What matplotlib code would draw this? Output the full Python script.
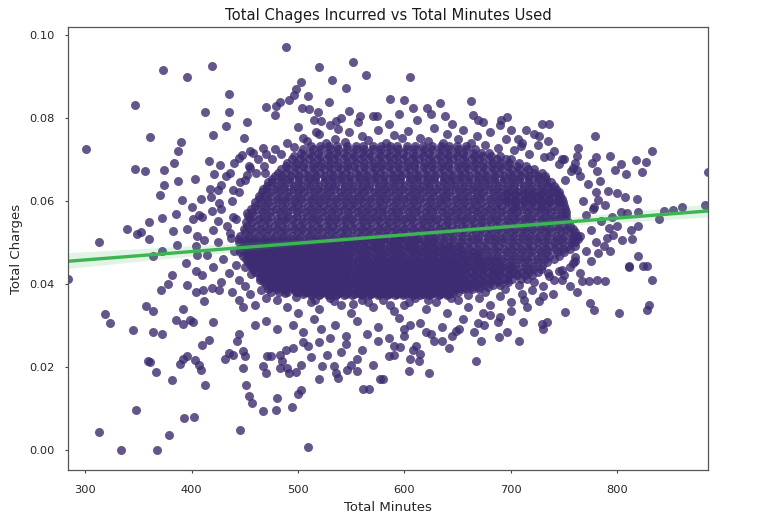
import numpy as np
import pandas as pd
import matplotlib
matplotlib.use('Agg')
import matplotlib.pyplot as plt
import seaborn as sns

# points that stand apart from the cloud, read one by one
out_minutes = [489, 373, 396, 419, 347, 361, 301, 347, 356, 374, 384, 390, 387, 435, 435, 413, 432, 420, 452, 470,
               449, 416, 427, 421, 403, 387, 374, 370, 391, 400, 385, 372, 360, 339, 349, 353, 360, 313, 383, 401,
               407, 405, 396, 409, 419, 386, 372, 364, 404, 417, 428, 426, 425, 439, 436, 446, 439, 436, 452, 445,
               454, 452, 458, 467, 469, 479, 483, 478, 492, 498, 503, 509, 496, 504, 510, 520, 532, 545, 552, 564,
               529, 548, 519, 517, 522, 536, 538, 558, 574,
               605, 586, 600, 608, 621, 633, 662, 638, 664, 669, 674, 691, 696, 714, 729, 736, 722, 726, 707, 709,
               779, 763, 737, 748, 762, 780, 793, 832, 817, 827, 823, 808, 803, 798, 776, 781, 784, 762, 751, 885,
               791, 800, 807, 818, 782, 777, 803, 809, 819, 844, 852, 861, 882, 839, 819, 813, 814, 804, 796, 792,
               787, 782, 793, 819, 811, 828,
               284, 319, 323, 345, 357, 364, 371, 378, 382, 364, 372, 359, 361, 367, 382, 348, 313, 334, 368, 379,
               393, 402, 385, 392, 392, 399, 401, 396, 404, 404, 411, 412, 419, 426, 420, 410, 416, 389, 392, 396,
               403, 407, 409, 413, 431, 435, 439, 443, 445, 448, 450, 448, 451, 454, 457, 446, 467, 479, 480, 494,
               500, 503, 509, 467, 470, 471, 475, 483, 485, 490, 483, 492, 498, 503, 495, 489, 509, 512, 520, 523,
               527, 534, 536, 538, 546, 555, 561, 567, 577,
               580, 604, 605, 614, 623, 596, 608, 611, 635, 667, 672, 689, 696, 708, 711, 730, 729, 734, 751, 774,
               778, 801, 828, 830, 832, 824, 811, 788, 781, 773, 767, 762, 748, 739, 730, 726, 712, 688, 680, 674,
               669, 651, 648]
out_charges = [0.0970, 0.0916, 0.0899, 0.0924, 0.0831, 0.0753, 0.0725, 0.0676, 0.0671, 0.0675, 0.0692, 0.0741,
               0.0719, 0.0857, 0.0814, 0.0814, 0.0781, 0.0759, 0.0789, 0.0826, 0.0751, 0.0696, 0.0685, 0.0665,
               0.0653, 0.0647, 0.0638, 0.0613, 0.0602, 0.0585, 0.0569, 0.0558, 0.0549, 0.0533, 0.0519, 0.0524,
               0.0508, 0.0500, 0.0528, 0.0557, 0.0566, 0.0514, 0.0533, 0.0604, 0.0576, 0.0494, 0.0480, 0.0467,
               0.0490, 0.0628, 0.0639, 0.0594, 0.0550, 0.0627, 0.0667, 0.0644, 0.0562, 0.0522, 0.0570, 0.0703,
               0.0684, 0.0663, 0.0715, 0.0727, 0.0667, 0.0829, 0.0837, 0.0807, 0.0843, 0.0869, 0.0886, 0.0852,
               0.0855, 0.0823, 0.0822, 0.0921, 0.0892, 0.0871, 0.0934, 0.0904, 0.0839, 0.0817, 0.0814, 0.0766,
               0.0791, 0.0791, 0.0773, 0.0804, 0.0805,
               0.0897, 0.0846, 0.0842, 0.0823, 0.0823, 0.0836, 0.0841, 0.0804, 0.0807, 0.0795, 0.0789, 0.0795,
               0.0802, 0.0771, 0.0785, 0.0785, 0.0760, 0.0755, 0.0749, 0.0733, 0.0757, 0.0728, 0.0707, 0.0700,
               0.0707, 0.0705, 0.0707, 0.0720, 0.0699, 0.0693, 0.0669, 0.0665, 0.0688, 0.0675, 0.0691, 0.0671,
               0.0647, 0.0675, 0.0651, 0.0669, 0.0624, 0.0619, 0.0608, 0.0604, 0.0602, 0.0580, 0.0572, 0.0570,
               0.0573, 0.0576, 0.0578, 0.0586, 0.0590, 0.0555, 0.0538, 0.0530, 0.0509, 0.0506, 0.0518, 0.0534,
               0.0490, 0.0474, 0.0480, 0.0466, 0.0442, 0.0444,
               0.0412, 0.0328, 0.0305, 0.0288, 0.0347, 0.0335, 0.0386, 0.0400, 0.0420, 0.0285, 0.0278, 0.0215,
               0.0212, 0.0187, 0.0168, 0.0096, 0.0043, 0.0000, 0.0000, 0.0035, 0.0077, 0.0080, 0.0312, 0.0304,
               0.0339, 0.0312, 0.0307, 0.0396, 0.0380, 0.0430, 0.0386, 0.0359, 0.0390, 0.0386, 0.0308, 0.0253,
               0.0265, 0.0207, 0.0219, 0.0226, 0.0217, 0.0204, 0.0192, 0.0155, 0.0219, 0.0233, 0.0229, 0.0263,
               0.0280, 0.0237, 0.0225, 0.0197, 0.0155, 0.0129, 0.0114, 0.0047, 0.0094, 0.0096, 0.0125, 0.0104,
               0.0135, 0.0144, 0.0008, 0.0201, 0.0185, 0.0227, 0.0225, 0.0229, 0.0213, 0.0197, 0.0197, 0.0186,
               0.0188, 0.0205, 0.0245, 0.0241, 0.0251, 0.0224, 0.0171, 0.0203, 0.0229, 0.0201, 0.0186, 0.0174,
               0.0193, 0.0190, 0.0146, 0.0146, 0.0171,
               0.0171, 0.0190, 0.0219, 0.0213, 0.0186, 0.0247, 0.0241, 0.0249, 0.0261, 0.0214, 0.0263, 0.0271,
               0.0285, 0.0263, 0.0308, 0.0292, 0.0303, 0.0308, 0.0332, 0.0353, 0.0337, 0.0329, 0.0337, 0.0349,
               0.0408, 0.0443, 0.0441, 0.0406, 0.0408, 0.0406, 0.0406, 0.0381, 0.0408, 0.0376, 0.0371, 0.0358,
               0.0360, 0.0309, 0.0325, 0.0329, 0.0305, 0.0291, 0.0287]

# looser points around the edge of the dense cloud
edge_minutes = [505, 520, 535, 548, 560, 575, 590, 603, 615, 628, 640, 655, 668, 680, 695, 710, 725, 490, 478, 530,
                556, 585, 612, 645, 700, 500, 470, 740, 750, 760, 570, 595, 540, 515, 625, 690, 735,
                440, 432, 445, 438, 428, 442, 433, 420, 437, 425, 440, 415, 430, 442, 420, 435, 410, 445, 428, 450,
                438, 455, 445, 460, 448, 470, 465, 475, 412, 405, 395, 418, 410, 450, 455, 462, 447, 425, 455,
                480, 490, 500, 512, 520, 530, 540, 550, 560, 570, 580, 590, 600, 610, 620, 630, 640, 650, 660, 670,
                680, 690, 700, 710, 720, 730, 740, 515, 535, 555, 575, 595, 615, 635, 655, 675, 495, 505, 545, 565,
                585, 625, 645, 665, 470, 480, 460, 520, 600, 700, 715, 690,
                530, 545, 560, 575, 590, 555, 540, 522, 505, 585, 570, 550, 600, 615, 628, 642, 620, 605, 590,
                765, 772, 780, 768, 778, 770, 785, 775, 765, 780, 770, 760, 775, 755, 765, 750, 790, 795, 800, 788,
                758, 760, 745, 755, 735,
                508, 526, 544, 566, 583, 598, 622, 636, 650, 662, 676, 688, 703, 717, 731, 745, 756, 496, 484, 476,
                468, 461,
                498, 516, 534, 552, 566, 586, 604, 622, 644, 660, 676, 694, 708, 722, 736, 748, 758, 488, 474, 464,
                456, 450]
edge_charges = [0.0752, 0.0760, 0.0748, 0.0765, 0.0755, 0.0770, 0.0758, 0.0768, 0.0752, 0.0775, 0.0760, 0.0770,
                0.0755, 0.0765, 0.0748, 0.0740, 0.0735, 0.0740, 0.0725, 0.0782, 0.0790, 0.0785, 0.0795, 0.0785,
                0.0770, 0.0778, 0.0712, 0.0720, 0.0700, 0.0690, 0.0805, 0.0810, 0.0800, 0.0795, 0.0808, 0.0782,
                0.0745,
                0.0690, 0.0660, 0.0620, 0.0600, 0.0580, 0.0555, 0.0540, 0.0530, 0.0510, 0.0500, 0.0480, 0.0470,
                0.0460, 0.0445, 0.0440, 0.0425, 0.0420, 0.0410, 0.0405, 0.0395, 0.0380, 0.0375, 0.0360, 0.0350,
                0.0345, 0.0365, 0.0385, 0.0380, 0.0505, 0.0470, 0.0450, 0.0610, 0.0560, 0.0650, 0.0680, 0.0700,
                0.0710, 0.0625, 0.0720,
                0.0360, 0.0345, 0.0330, 0.0355, 0.0340, 0.0365, 0.0350, 0.0330, 0.0360, 0.0345, 0.0362, 0.0335,
                0.0350, 0.0365, 0.0340, 0.0355, 0.0330, 0.0360, 0.0345, 0.0365, 0.0350, 0.0370, 0.0355, 0.0375,
                0.0385, 0.0395, 0.0410, 0.0315, 0.0300, 0.0310, 0.0295, 0.0318, 0.0305, 0.0295, 0.0315, 0.0300,
                0.0300, 0.0285, 0.0275, 0.0280, 0.0270, 0.0280, 0.0275, 0.0285, 0.0310, 0.0290, 0.0300, 0.0260,
                0.0290, 0.0335, 0.0345, 0.0320,
                0.0270, 0.0255, 0.0240, 0.0262, 0.0250, 0.0220, 0.0235, 0.0290, 0.0260, 0.0225, 0.0205, 0.0205,
                0.0275, 0.0230, 0.0262, 0.0245, 0.0285, 0.0300, 0.0228,
                0.0660, 0.0640, 0.0620, 0.0600, 0.0585, 0.0565, 0.0550, 0.0530, 0.0515, 0.0500, 0.0480, 0.0465,
                0.0455, 0.0440, 0.0425, 0.0420, 0.0510, 0.0560, 0.0540, 0.0590, 0.0680, 0.0455, 0.0430, 0.0395,
                0.0425,
                0.0745, 0.0738, 0.0742, 0.0747, 0.0740, 0.0750, 0.0744, 0.0738, 0.0748, 0.0740, 0.0735, 0.0728,
                0.0722, 0.0712, 0.0705, 0.0688, 0.0672, 0.0730, 0.0712, 0.0700, 0.0684, 0.0668,
                0.0368, 0.0362, 0.0358, 0.0352, 0.0356, 0.0350, 0.0356, 0.0362, 0.0366, 0.0372, 0.0380, 0.0388,
                0.0396, 0.0405, 0.0418, 0.0432, 0.0450, 0.0378, 0.0392, 0.0408, 0.0424, 0.0440]

# the dense middle, read row by row (one charge level per row)
core_charges = [0.0380, 0.0396, 0.0412, 0.0428, 0.0444, 0.0460, 0.0476, 0.0492, 0.0508, 0.0524, 0.0540, 0.0556,
                0.0572, 0.0588, 0.0604, 0.0620, 0.0636, 0.0652, 0.0668, 0.0684, 0.0700, 0.0716, 0.0732]
core_minutes = [
    [500, 508, 515, 524, 531, 540, 547, 556, 563, 571, 580, 587, 596, 603, 612, 619, 628, 636, 643, 650],
    [484, 492, 499, 508, 516, 523, 532, 539, 548, 556, 563, 572, 579, 588, 595, 604, 611, 620, 628, 635, 644, 651,
     660, 667, 676, 683, 690],
    [470, 478, 486, 493, 502, 510, 517, 526, 533, 542, 549, 558, 566, 573, 582, 589, 598, 605, 614, 622, 629, 638,
     645, 654, 661, 670, 678, 685, 694, 701, 709, 715],
    [462, 469, 478, 486, 494, 501, 510, 518, 525, 534, 542, 550, 557, 566, 574, 581, 590, 598, 606, 613, 622, 630,
     637, 646, 654, 662, 669, 678, 686, 693, 702, 710, 717, 725],
    [456, 465, 473, 480, 489, 497, 504, 513, 521, 529, 536, 545, 553, 560, 569, 577, 585, 592, 601, 609, 616, 625,
     633, 641, 648, 657, 665, 672, 681, 689, 697, 704, 713, 721, 729],
    [451, 459, 467, 476, 484, 491, 500, 508, 515, 524, 532, 540, 547, 556, 564, 571, 580, 588, 596, 603, 612, 620,
     627, 636, 644, 652, 659, 668, 676, 683, 692, 700, 708, 715, 724, 732, 740],
    [446, 454, 462, 471, 479, 486, 495, 503, 510, 519, 527, 535, 542, 551, 559, 566, 575, 583, 591, 598, 607, 615,
     622, 631, 639, 647, 654, 663, 671, 678, 687, 695, 703, 710, 719, 727, 734, 743, 750],
    [449, 457, 465, 473, 482, 490, 497, 506, 514, 521, 530, 538, 546, 553, 562, 570, 577, 586, 594, 602, 609, 618,
     626, 633, 642, 650, 658, 665, 674, 682, 689, 698, 706, 714, 721, 730, 738, 745, 754, 760],
    [445, 453, 461, 469, 477, 486, 494, 501, 510, 518, 525, 534, 542, 550, 557, 566, 574, 581, 590, 598, 606, 613,
     622, 630, 637, 646, 654, 662, 669, 678, 686, 693, 702, 710, 718, 725, 734, 742, 749, 757, 763],
    [450, 458, 466, 475, 483, 490, 499, 507, 514, 523, 531, 539, 546, 555, 563, 570, 579, 587, 595, 602, 611, 619,
     626, 635, 643, 651, 658, 667, 675, 682, 691, 699, 707, 714, 723, 731, 738, 747, 755, 760],
    [452, 461, 469, 477, 485, 494, 502, 509, 518, 526, 533, 542, 550, 558, 565, 574, 582, 589, 598, 606, 614, 621,
     630, 638, 645, 654, 662, 670, 677, 686, 694, 701, 710, 718, 726, 733, 742, 750, 755],
    [455, 463, 471, 480, 488, 495, 504, 512, 519, 528, 536, 544, 551, 560, 568, 575, 584, 592, 600, 607, 616, 624,
     631, 640, 648, 656, 663, 672, 680, 687, 696, 704, 712, 719, 728, 736, 743, 751],
    [457, 466, 474, 482, 490, 499, 507, 514, 523, 531, 538, 547, 555, 563, 570, 579, 587, 594, 603, 611, 619, 626,
     635, 643, 650, 659, 667, 675, 682, 691, 699, 706, 715, 723, 731, 738, 747, 752],
    [460, 468, 476, 485, 493, 500, 509, 517, 524, 533, 541, 549, 556, 565, 573, 580, 589, 597, 605, 612, 621, 629,
     636, 645, 653, 661, 668, 677, 685, 692, 701, 709, 717, 724, 733, 741, 750],
    [463, 471, 480, 488, 496, 503, 512, 520, 527, 536, 544, 552, 559, 568, 576, 583, 592, 600, 608, 615, 624, 632,
     639, 648, 656, 664, 671, 680, 688, 695, 704, 712, 720, 727, 736, 744, 748],
    [466, 474, 482, 491, 499, 506, 515, 523, 530, 539, 547, 555, 562, 571, 579, 586, 595, 603, 611, 618, 627, 635,
     642, 651, 659, 667, 674, 683, 691, 698, 707, 715, 723, 730, 739, 745],
    [471, 479, 487, 496, 504, 511, 520, 528, 535, 544, 552, 560, 567, 576, 584, 591, 600, 608, 616, 623, 632, 640,
     647, 656, 664, 672, 679, 688, 696, 703, 712, 720, 728, 735, 740],
    [476, 484, 492, 501, 509, 516, 525, 533, 540, 549, 557, 565, 572, 581, 589, 596, 605, 613, 621, 628, 637, 645,
     652, 661, 669, 677, 684, 693, 701, 708, 717, 725, 733],
    [481, 489, 497, 506, 514, 521, 530, 538, 545, 554, 562, 570, 577, 586, 594, 601, 610, 618, 626, 633, 642, 650,
     657, 666, 674, 682, 689, 698, 706, 713, 722, 729],
    [489, 497, 505, 514, 522, 529, 538, 546, 553, 562, 570, 578, 585, 594, 602, 609, 618, 626, 634, 641, 650, 658,
     665, 674, 682, 690, 697, 706, 714],
    [494, 502, 510, 519, 527, 534, 543, 551, 558, 567, 575, 583, 590, 599, 607, 614, 623, 631, 639, 646, 655, 663,
     670, 679, 687, 695, 700],
    [503, 511, 519, 528, 536, 543, 552, 560, 567, 576, 584, 592, 599, 608, 616, 623, 632, 640, 648, 655, 664, 672,
     679],
    [512, 521, 529, 537, 546, 554, 561, 570, 578, 586, 593, 602, 610, 617, 626, 634, 642, 649, 658],
]

# more of the dense middle, between the rows above
mid_charges = [0.0372, 0.0388, 0.0404, 0.0420, 0.0436, 0.0452, 0.0468, 0.0484, 0.0500, 0.0516, 0.0532, 0.0548,
               0.0564, 0.0580, 0.0596, 0.0612, 0.0628, 0.0644, 0.0660, 0.0676, 0.0692, 0.0708, 0.0724]
mid_minutes = [
    [512, 520, 528, 536, 543, 551, 560, 567, 575, 584, 591, 599, 608, 615, 623, 632, 640],
    [488, 496, 504, 512, 519, 527, 535, 543, 552, 559, 567, 576, 583, 591, 600, 607, 615, 624, 631, 639, 648, 655,
     663, 670],
    [476, 482, 490, 497, 505, 513, 521, 529, 537, 545, 553, 561, 569, 577, 585, 593, 601, 609, 617, 625, 633, 641,
     649, 657, 665, 673, 681, 689, 697],
    [466, 474, 482, 490, 497, 506, 514, 521, 530, 538, 545, 554, 562, 569, 578, 586, 593, 602, 610, 617, 626, 634,
     641, 650, 658, 665, 674, 682, 689, 698, 706, 713, 720],
    [458, 466, 474, 482, 490, 498, 506, 514, 522, 530, 538, 546, 554, 562, 570, 578, 586, 594, 602, 610, 618, 626,
     634, 642, 650, 658, 666, 674, 682, 690, 698, 706, 714, 721, 728],
    [453, 461, 469, 477, 485, 493, 501, 509, 517, 525, 533, 541, 549, 557, 565, 573, 581, 589, 597, 605, 613, 621,
     629, 637, 645, 653, 661, 669, 677, 685, 693, 701, 709, 717, 725, 734],
    [448, 456, 464, 472, 480, 488, 496, 504, 512, 520, 528, 536, 544, 552, 560, 568, 576, 584, 592, 600, 608, 616,
     624, 632, 640, 648, 656, 664, 672, 680, 688, 696, 704, 712, 720, 728, 736, 745],
    [446, 453, 461, 469, 477, 485, 493, 501, 509, 517, 525, 533, 541, 549, 557, 565, 573, 581, 589, 597, 605, 613,
     621, 629, 637, 645, 653, 661, 669, 677, 685, 693, 701, 709, 717, 725, 733, 741, 749, 755],
    [445, 452, 460, 468, 476, 484, 492, 500, 508, 516, 524, 532, 540, 548, 556, 564, 572, 580, 588, 596, 604, 612,
     620, 628, 636, 644, 652, 660, 668, 676, 684, 692, 700, 708, 716, 724, 732, 740, 748, 756, 760],
    [446, 454, 462, 470, 478, 486, 494, 502, 510, 518, 526, 534, 542, 550, 558, 566, 574, 582, 590, 598, 606, 614,
     622, 630, 638, 646, 654, 662, 670, 678, 686, 694, 702, 710, 718, 726, 734, 742, 750, 758, 762],
    [449, 456, 464, 472, 480, 488, 496, 504, 512, 520, 528, 536, 544, 552, 560, 568, 576, 584, 592, 600, 608, 616,
     624, 632, 640, 648, 656, 664, 672, 680, 688, 696, 704, 712, 720, 728, 736, 744, 752, 758],
    [451, 457, 465, 473, 481, 489, 497, 505, 513, 521, 529, 537, 545, 553, 561, 569, 577, 585, 593, 601, 609, 617,
     625, 633, 641, 649, 657, 665, 673, 681, 689, 697, 705, 713, 721, 729, 737, 745, 754],
    [453, 459, 467, 475, 484, 491, 499, 508, 516, 524, 532, 540, 548, 556, 564, 572, 580, 588, 596, 604, 612, 620,
     628, 636, 644, 652, 660, 668, 676, 684, 692, 700, 708, 716, 724, 732, 740, 748, 752],
    [456, 462, 470, 479, 487, 495, 503, 511, 519, 527, 535, 543, 551, 559, 567, 575, 583, 591, 599, 607, 615, 623,
     631, 639, 647, 655, 663, 671, 679, 687, 695, 703, 711, 719, 727, 735, 743, 751],
    [460, 465, 473, 481, 489, 497, 505, 513, 521, 529, 537, 545, 553, 561, 569, 577, 585, 593, 601, 609, 617, 625,
     633, 641, 649, 657, 665, 673, 681, 689, 697, 705, 713, 721, 729, 737, 745, 749],
    [463, 468, 476, 484, 492, 500, 508, 516, 524, 532, 540, 548, 556, 564, 572, 580, 588, 596, 604, 612, 620, 628,
     636, 644, 652, 660, 668, 676, 684, 692, 700, 708, 716, 724, 732, 740, 746],
    [467, 471, 479, 487, 495, 503, 511, 519, 527, 535, 543, 551, 559, 567, 575, 583, 591, 599, 607, 615, 623, 631,
     639, 647, 655, 663, 671, 679, 687, 695, 703, 711, 719, 727, 735, 742],
    [472, 476, 484, 492, 500, 508, 516, 524, 532, 540, 548, 556, 564, 572, 580, 588, 596, 604, 612, 620, 628, 636,
     644, 652, 660, 668, 676, 684, 692, 700, 708, 716, 724, 732, 738],
    [478, 485, 493, 501, 509, 517, 525, 533, 541, 549, 557, 565, 573, 581, 589, 597, 605, 613, 621, 629, 637, 645,
     653, 661, 669, 677, 685, 693, 701, 709, 717, 725, 732],
    [484, 492, 500, 508, 516, 524, 532, 540, 548, 556, 564, 572, 580, 588, 596, 604, 612, 620, 628, 636, 644, 652,
     660, 668, 676, 684, 692, 700, 708, 716, 722],
    [490, 498, 506, 514, 522, 530, 538, 546, 554, 562, 570, 578, 586, 594, 602, 610, 618, 626, 634, 642, 650, 658,
     666, 674, 682, 690, 698, 708],
    [496, 505, 513, 521, 529, 537, 545, 553, 561, 569, 577, 585, 593, 601, 609, 617, 625, 633, 641, 649, 657, 665,
     673, 681, 690],
    [505, 514, 522, 530, 538, 546, 554, 562, 570, 578, 586, 594, 602, 610, 618, 626, 634, 642, 650, 658, 666],
]

# the lower part of the dense middle holds the most points
low_charges = [0.0376, 0.0392, 0.0408, 0.0424, 0.0440, 0.0456, 0.0472, 0.0488, 0.0504]
low_minutes = [
    [505, 513, 521, 529, 537, 545, 553, 561, 569, 577, 585, 593, 601, 609, 617, 625, 633, 641],
    [478, 486, 494, 502, 510, 518, 526, 534, 542, 550, 558, 566, 574, 582, 590, 598, 606, 614, 622, 630, 638, 646,
     654, 662, 670, 678],
    [472, 480, 488, 496, 504, 512, 520, 528, 536, 544, 552, 560, 568, 576, 584, 592, 600, 608, 616, 624, 632, 640,
     648, 656, 664, 672, 680, 688, 696],
    [466, 474, 482, 490, 498, 506, 514, 522, 530, 538, 546, 554, 562, 570, 578, 586, 594, 602, 610, 618, 626, 634,
     642, 650, 658, 666, 674, 682, 690, 698, 706],
    [460, 468, 476, 484, 492, 500, 508, 516, 524, 532, 540, 548, 556, 564, 572, 580, 588, 596, 604, 612, 620, 628,
     636, 644, 652, 660, 668, 676, 684, 692, 700],
    [455, 463, 471, 479, 487, 495, 503, 511, 519, 527, 535, 543, 551, 559, 567, 575, 583, 591, 599, 607, 615, 623,
     631, 639, 647, 655, 663, 671, 679, 687],
    [452, 460, 468, 476, 484, 492, 500, 508, 516, 524, 532, 540, 548, 556, 564, 572, 580, 588, 596, 604, 612, 620,
     628, 636, 644, 652, 660, 668],
    [450, 458, 466, 474, 482, 490, 498, 506, 514, 522, 530, 538, 546, 554, 562, 570, 578, 586, 594, 602, 610, 618,
     626, 634, 642, 650],
    [450, 458, 466, 474, 482, 490, 498, 506, 514, 522, 530, 538, 546, 554, 562, 570, 578, 586, 594, 602, 610, 618,
     626],
]

# lower left and lower middle of the dense part, where most customers sit
lowleft_charges = [0.0380, 0.0388, 0.0392, 0.0400, 0.0404, 0.0412, 0.0416, 0.0428, 0.0440, 0.0452, 0.0464, 0.0476,
                   0.0488]
lowleft_minutes = [
    [482, 490, 498, 506, 514, 522, 530, 538],
    [472, 480, 488, 496, 504, 512, 520, 528, 536, 544],
    [474, 482, 490, 498, 506, 514, 522, 530, 538, 546],
    [470, 478, 486, 494, 502, 510, 518, 526, 534, 542],
    [468, 476, 484, 492, 500, 508, 516, 524, 532, 540, 548],
    [466, 474, 482, 490, 498, 506, 514, 522, 530, 538],
    [464, 472, 480, 488, 496, 504, 512, 520, 528, 536, 544],
    [460, 468, 476, 484, 492, 500, 508, 516, 524, 532, 540, 548],
    [458, 466, 474, 482, 490, 498, 506, 514, 522, 530, 538, 546],
    [456, 464, 472, 480, 488, 496, 504, 512, 520, 528, 536, 544],
    [454, 462, 470, 478, 486, 494, 502, 510, 518, 526, 534, 542],
    [452, 460, 468, 476, 484, 492, 500, 508, 516, 524, 532, 540],
    [452, 460, 468, 476, 484, 492, 500, 508, 516, 524, 532],
]
lowmid_charges = [0.0378, 0.0390, 0.0402, 0.0414, 0.0426, 0.0438, 0.0450]
lowmid_minutes = [
    [556, 562, 568, 574, 580, 586, 592, 598, 604, 610, 616, 622, 628, 634, 640, 646],
    [556, 562, 568, 574, 580, 586, 592, 598, 604, 610, 616, 622, 628, 634, 640, 646, 652, 658],
    [556, 562, 568, 574, 580, 586, 592, 598, 604, 610, 616, 622, 628, 634, 640, 646, 652, 658],
    [556, 562, 568, 574, 580, 586, 592, 598, 604, 610, 616, 622, 628, 634, 640, 646, 652],
    [556, 562, 568, 574, 580, 586, 592, 598, 604, 610, 616, 622, 628, 634, 640, 646, 652],
    [556, 562, 568, 574, 580, 586, 592, 598, 604, 610, 616, 622, 628, 634, 640, 646],
    [556, 562, 568, 574, 580, 586, 592, 598, 604, 610, 616, 622, 628, 634, 640, 646],
]
# upper right of the dense part
upright_charges = [0.0584, 0.0600, 0.0616]
upright_minutes = [
    [704, 728],
    [696, 704, 712, 720, 728, 736, 744],
    [696, 704, 712, 720, 728, 736, 744],
]

minutes = list(out_minutes) + list(edge_minutes)
charges = list(out_charges) + list(edge_charges)
row_groups = [(core_charges, core_minutes), (mid_charges, mid_minutes), (low_charges, low_minutes),
              (lowleft_charges, lowleft_minutes), (lowmid_charges, lowmid_minutes),
              (upright_charges, upright_minutes)]
for levels, rows in row_groups:
    for level, row in zip(levels, rows):
        minutes += row
        charges += [level] * len(row)

df = pd.DataFrame({'Total Minutes': minutes, 'Total Charges': charges})

fig = plt.figure(figsize=(7.58, 5.25), dpi=100)
ax = fig.add_axes([0.0897, 0.1048, 0.8443, 0.8438])

sns.regplot(x='Total Minutes', y='Total Charges', data=df, ax=ax, seed=0,
            scatter_kws={'s': 42, 'alpha': 0.8, 'linewidths': 0, 'color': '#3d2c71'},
            line_kws={'color': '#3cb552', 'linewidth': 2.4})

ax.set_xlim(df['Total Minutes'].min(), df['Total Minutes'].max())
ax.set_xticks([300, 400, 500, 600, 700, 800])
ax.set_yticks([0.00, 0.02, 0.04, 0.06, 0.08, 0.10])
ax.set_yticklabels(['0.00', '0.02', '0.04', '0.06', '0.08', '0.10'])

ax.set_title('Total Chages Incurred vs Total Minutes Used', fontsize=10.6, color='#1a1a1a', pad=5)
ax.set_xlabel('Total Minutes', fontsize=9.5, color='#262626')
ax.set_ylabel('Total Charges', fontsize=9.5, color='#262626')
ax.tick_params(axis='both', labelsize=8.2, length=2.4, width=0.8, color='#444444', labelcolor='#262626')
ax.tick_params(axis='x', pad=8.5)
ax.tick_params(axis='y', pad=7.5)
for side in ['left', 'right', 'top', 'bottom']:
    ax.spines[side].set_color('#555555')
    ax.spines[side].set_linewidth(0.9)

plt.savefig('out.png', dpi=100)
